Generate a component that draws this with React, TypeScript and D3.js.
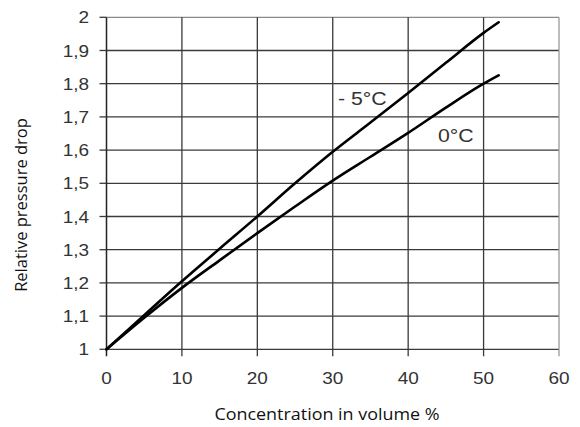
import React from "react";
import * as d3 from "d3";

const concentration = [0, 5, 10, 15, 20, 25, 30, 35, 40, 45, 50, 52];
const minus5C = [1.0, 1.103, 1.205, 1.303, 1.4, 1.5, 1.595, 1.683, 1.772, 1.863, 1.953, 1.985];
const zeroC = [1.0, 1.095, 1.185, 1.268, 1.35, 1.43, 1.508, 1.58, 1.652, 1.728, 1.8, 1.825];
const xTicks = [0, 10, 20, 30, 40, 50, 60];
const yTicks = [1, 1.1, 1.2, 1.3, 1.4, 1.5, 1.6, 1.7, 1.8, 1.9, 2];
const seriesLabels = ["- 5°C", "0°C"];

const SX = 1.15;
const ARIAL = "Liberation Sans, Arial, sans-serif";

export default function App() {
  const W = 580, H = 427;
  const x = d3.scaleLinear().domain([0, 60]).range([106.5, 559]);
  const y = d3.scaleLinear().domain([1, 2]).range([349.3, 17.3]);
  const line = d3.line<number>().x((_, i) => x(concentration[i])).y((d) => y(d)).curve(d3.curveMonotoneX);
  const fmt = (v: number) => String(Math.round(v * 10) / 10).replace(".", ",");
  return (
    <svg width={W} height={H} style={{ position: "absolute", left: 0, top: 0, background: "#fff" }}>
      {yTicks.map((t) => (
        <line key={"h" + t} x1={x(0)} x2={x(60)} y1={y(t)} y2={y(t)}
          stroke={t === 2 ? "#8a8a8a" : "#3a3a3a"} strokeWidth={1.3} />
      ))}
      {xTicks.map((t) => (
        <line key={"v" + t} x1={x(t)} x2={x(t)} y1={y(2)} y2={y(1) + 7}
          stroke={t === 60 ? "#9a9a9a" : t === 0 ? "#222" : "#3a3a3a"} strokeWidth={t === 0 ? 1.5 : 1.3} />
      ))}
      {yTicks.map((t) => (
        <line key={"yt" + t} x1={x(0) - 7} x2={x(0)} y1={y(t)} y2={y(t)} stroke="#3a3a3a" strokeWidth={1.3} />
      ))}
      {yTicks.map((t) => (
        <text key={"yl" + t} transform={`translate(89,${y(t) + 6}) scale(${SX},1)`} textAnchor="end"
          fontFamily={ARIAL} fontSize={16.5} fill="#333">{fmt(t)}</text>
      ))}
      {xTicks.map((t) => (
        <text key={"xl" + t} transform={`translate(${x(t)},383.5) scale(${SX},1)`} textAnchor="middle"
          fontFamily={ARIAL} fontSize={16.5} fill="#333">{t}</text>
      ))}
      <path d={line(minus5C) || ""} fill="none" stroke="#000" strokeWidth={2.6} strokeLinejoin="round" strokeLinecap="round" />
      <path d={line(zeroC) || ""} fill="none" stroke="#000" strokeWidth={2.6} strokeLinejoin="round" strokeLinecap="round" />
      <text transform={`translate(338,105) scale(${SX},1)`} fontFamily={ARIAL} fontSize={18.5} fill="#333">{seriesLabels[0]}</text>
      <text transform={`translate(438,142) scale(${SX},1)`} fontFamily={ARIAL} fontSize={18.5} fill="#333">{seriesLabels[1]}</text>
      <text transform={`translate(27,205) rotate(-90)`} textAnchor="middle" fontFamily="Open Sans, sans-serif"
        fontSize={16.5} fill="#111">Relative pressure drop</text>
      <text transform={`translate(327,420) scale(1.1,1)`} textAnchor="middle" fontFamily="Open Sans, sans-serif"
        fontSize={16.3} fill="#111">Concentration in volume %</text>
    </svg>
  );
}
